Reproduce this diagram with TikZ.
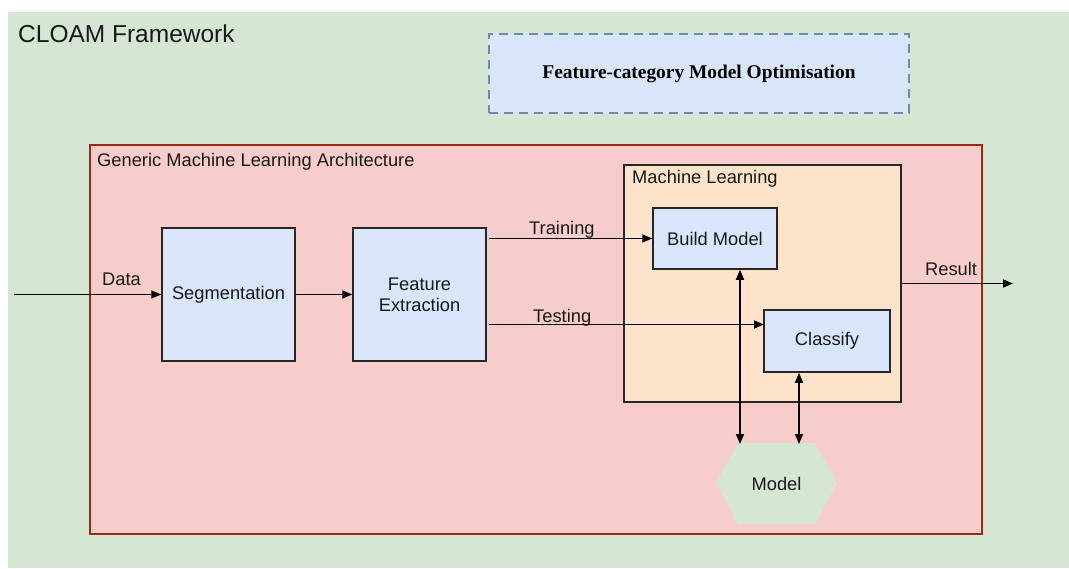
\documentclass[tikz,border=0pt]{standalone}
\usepackage{fontspec}
\setmainfont{Liberation Sans}
\newfontfamily\serifbold{Liberation Serif}
\usetikzlibrary{arrows.meta}
\definecolor{bggreen}{HTML}{D5E6D3}
\definecolor{redfill}{HTML}{F7CDCC}
\definecolor{redline}{HTML}{9E2A14}
\definecolor{bluefill}{HTML}{D9E6FA}
\definecolor{blueline}{HTML}{6C8AB5}
\definecolor{orangefill}{HTML}{FEE3CB}
\definecolor{boxline}{HTML}{262626}
\tikzset{
  lbl/.style={font=\fontsize{18.3}{20}\selectfont, text=black!90, inner sep=0pt},
  procbox/.style={draw=boxline, fill=bluefill, line width=1.5pt, inner sep=0pt,
    align=center, font=\fontsize{18.3}{21}\selectfont, text=black!90},
  conn/.style={line width=1.6pt, -{Triangle[length=10pt,width=8pt]}},
  biconn/.style={line width=1.6pt, {Triangle[length=10pt,width=8pt]}-{Triangle[length=10pt,width=8pt]}},
}
\begin{document}
\begin{tikzpicture}[x=1pt,y=-1pt]
\useasboundingbox (0,0) rectangle (1069,568);
\fill[white] (0,0) rectangle (1069,568);
% outer framework
\fill[bggreen] (8,12) rectangle (1069,568);
\node[lbl, font=\fontsize{24.5}{26}\selectfont, anchor=base west] (title) at (18,42) {CLOAM Framework};
% optimisation box
\node[draw=blueline, fill=bluefill, line width=2pt, dash pattern=on 9pt off 6pt,
  minimum width=420pt, minimum height=79pt, inner sep=0pt,
  font=\serifbold\bfseries\fontsize{19.4}{21}\selectfont] (opt) at (699,73.5) {Feature-category Model Optimisation};
% generic architecture
\node[draw=redline, fill=redfill, line width=1.6pt, minimum width=892pt, minimum height=389pt, inner sep=0pt] (gen) at (536,339.5) {};
\node[lbl, anchor=base west] (genlbl) at (97,166) {Generic Machine Learning Architecture};
% machine learning box
\node[draw=boxline, fill=orangefill, line width=1.5pt, minimum width=277pt, minimum height=237pt, inner sep=0pt] (ml) at (762.5,283.5) {};
\node[lbl, anchor=base west] (mllbl) at (632,183) {Machine Learning};
% process boxes
\node[procbox, minimum width=133pt, minimum height=133pt] (seg) at (228.5,294.5) {Segmentation};
\node[procbox, minimum width=133pt, minimum height=133pt] (fe) at (419.5,294.5) {Feature\\Extraction};
\node[procbox, minimum width=124pt, minimum height=61pt] (bm) at (715,238.5) {Build Model};
\node[procbox, minimum width=126pt, minimum height=62pt] (cl) at (827,341) {Classify};
% model hexagon
\fill[bggreen] (716,483.5) -- (738,443) -- (815,443) -- (837,483.5) -- (815,524) -- (738,524) -- cycle;
\node[lbl, minimum width=121pt, minimum height=81pt] (model) at (776.5,483.5) {Model};
% coordinates
\coordinate (din) at (14,294.5);
\coordinate (trs) at (489,238.5);
\coordinate (tss) at (489,324.5);
\coordinate (tse) at (764,324.5);
\coordinate (rend) at (1013,283.5);
\coordinate (mt1) at (740,444);
\coordinate (mt2) at (799,444);
% connectors
\draw[conn] (din) -- (seg.west);
\draw[conn] (seg.east) -- (fe.west);
\draw[conn] (trs) -- (bm.west);
\draw[conn] (tss) -- (tse);
\draw[conn] (ml.east) -- (rend);
\draw[biconn] (mt1 |- bm.south) -- (mt1);
\draw[biconn] (mt2 |- cl.south) -- (mt2);
% connector labels
\node[lbl, anchor=base west] (ldata) at (102,285) {Data};
\node[lbl, anchor=base west] (ltrain) at (529,234) {Training};
\node[lbl, anchor=base west] (ltest) at (533,322) {Testing};
\node[lbl, anchor=base west] (lres) at (925,275) {Result};
\end{tikzpicture}
\end{document}
